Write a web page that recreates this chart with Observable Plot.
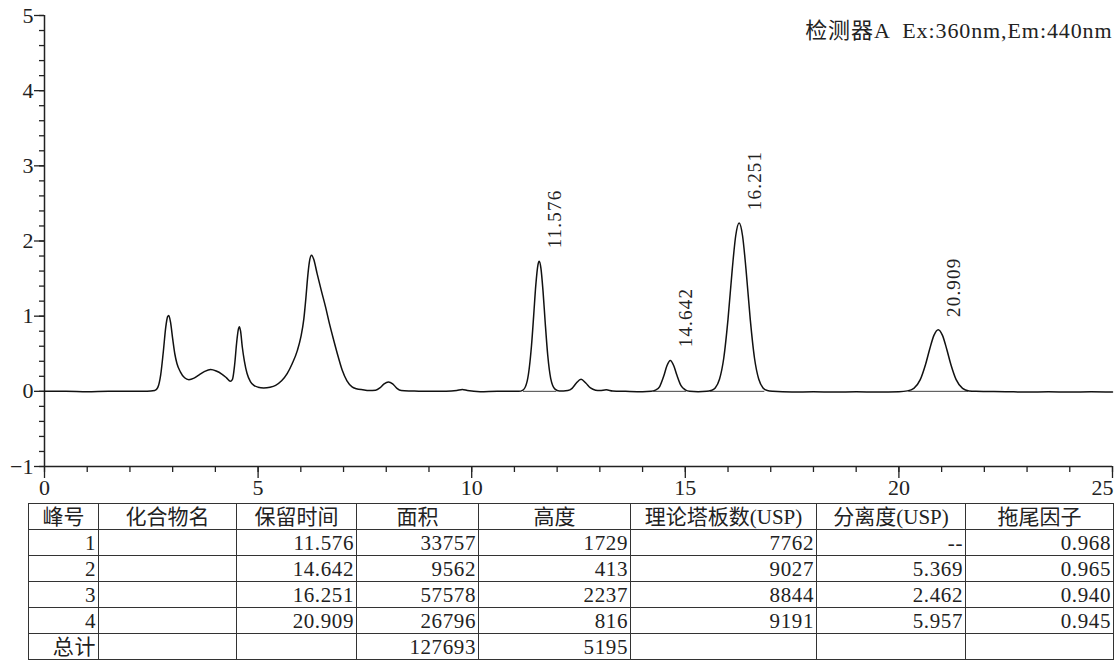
<!DOCTYPE html>
<html><head><meta charset="utf-8">
<script src="https://cdn.jsdelivr.net/npm/d3@7"></script>
<script src="https://cdn.jsdelivr.net/npm/@observablehq/plot@0.6"></script>
<style>
body{margin:0;background:#fff;}
#wrap{position:relative;width:1115px;height:664px;font-family:"Liberation Serif","Times New Roman","DejaVu Serif","Noto Sans CJK SC",serif;color:#222;overflow:hidden;}
#chart{position:absolute;left:0;top:0;}
table{position:absolute;left:28px;top:503px;border-collapse:collapse;table-layout:fixed;font-size:21px;}
td,th{border:1.4px solid #333;height:25px;padding:0 2px;line-height:24px;font-weight:normal;white-space:nowrap;overflow:hidden;}
th{text-align:center;}
td{text-align:right;letter-spacing:0.6px;}
svg text{font-family:"Liberation Serif","Times New Roman","DejaVu Serif","Noto Sans CJK SC",serif;}
</style></head>
<body><div id="wrap"><div id="chart"></div></div>
<script>
// ---- chromatogram trace (time min, signal) ----
const traceT = [0,0.5,1.0,1.5,2.0,2.4,2.58,2.65,2.72,2.78,2.84,2.88,2.91,2.95,3.0,3.05,3.1,3.18,3.28,3.38,3.5,3.62,3.75,3.89,4.02,4.15,4.26,4.35,4.40,4.45,4.50,4.54,4.56,4.59,4.63,4.68,4.74,4.82,4.9,5.0,5.13,5.28,5.41,5.55,5.68,5.8,5.92,6.0,6.07,6.12,6.16,6.2,6.25,6.3,6.38,6.48,6.58,6.67,6.77,6.87,6.97,7.08,7.2,7.3,7.45,7.6,7.75,7.85,7.95,8.05,8.15,8.25,8.35,8.6,9.0,9.4,9.65,9.78,9.9,10.2,10.6,11.0,11.1,
  11.2,11.3,11.4,11.45,11.5,11.55,11.58,11.62,11.67,11.72,11.78,11.85,11.95,12.05,12.15,
  12.25,12.35,12.45,12.56,12.67,12.78,12.9,13.0,13.15,13.3,13.6,14.0,14.2,
  14.3,14.4,14.5,14.57,14.65,14.73,14.8,14.9,15.0,15.1,15.3,15.5,
  15.6,15.7,15.8,15.9,16.0,16.1,16.18,16.26,16.34,16.42,16.52,16.62,16.72,16.82,16.92,17.05,17.5,18.0,18.5,19.0,19.5,20.0,
  20.2,20.35,20.5,20.62,20.72,20.82,20.92,21.02,21.12,21.22,21.34,21.49,21.64,21.8,22.5,23.0,23.5,24.0,24.5,25.0];
const traceV = [0,0.0,-0.005,0.0,0.0,0.0,0.01,0.05,0.22,0.52,0.86,0.99,1.01,0.92,0.7,0.5,0.37,0.26,0.18,0.155,0.175,0.22,0.265,0.29,0.27,0.23,0.18,0.135,0.16,0.35,0.66,0.83,0.86,0.8,0.59,0.4,0.24,0.13,0.08,0.055,0.045,0.055,0.08,0.14,0.235,0.37,0.545,0.72,0.96,1.25,1.52,1.72,1.81,1.76,1.57,1.34,1.12,0.9,0.68,0.47,0.28,0.14,0.06,0.035,0.02,0.01,0.015,0.045,0.1,0.125,0.1,0.04,0.01,0.005,0.0,0.0,0.01,0.025,0.01,-0.005,0.0,0.0,0.0,
  0.017,0.14,0.61,1.0,1.41,1.68,1.73,1.64,1.33,0.92,0.48,0.17,0.03,0.005,0.005,
  0.01,0.04,0.11,0.16,0.11,0.045,0.015,0.01,0.02,0.005,0.0,-0.005,0.0,
  0.015,0.064,0.21,0.34,0.41,0.34,0.22,0.075,0.02,0.0,-0.005,0.0,
  0.01,0.045,0.16,0.44,0.96,1.63,2.07,2.24,2.07,1.63,0.96,0.44,0.16,0.045,0.01,0.0,-0.01,-0.005,-0.01,-0.005,-0.01,-0.005,
  0.006,0.04,0.155,0.35,0.56,0.745,0.82,0.745,0.56,0.35,0.155,0.04,0.006,0.0,-0.005,-0.01,-0.005,-0.01,-0.005,-0.01];

// ---- integrated peaks ----
const peakNo = ["1","2","3","4"];
const retTime = ["11.576","14.642","16.251","20.909"];
const area = ["33757","9562","57578","26796"];
const heightVal = ["1729","413","2237","816"];
const plates = ["7762","9027","8844","9191"];
const resolution = ["--","5.369","2.462","5.957"];
const tailing = ["0.968","0.965","0.940","0.945"];
const totalArea = "127693";
const totalHeight = "5195";
const peakStart = [11.2,14.25,15.58,20.22];
const peakEnd = [11.98,15.02,16.85,21.62];

// ---- axes / text ----
const title = "检测器A  Ex:360nm,Em:440nm";
const headers = ["峰号","化合物名","保留时间","面积","高度","理论塔板数(USP)","分离度(USP)","拖尾因子"];
const totalLabel = "总计";
const xMajor = [0,5,10,15,20,25];
const xMinor = d3.range(0,26,1);
const yMajor = [-1,0,1,2,3,4,5];
const yMinor = d3.range(-1,5.001,0.2).map(v=>+v.toFixed(1));

const trace = traceT.map((t,i)=>({t, v: traceV[i]}));
const peaks = retTime.map((r,i)=>({rt:+r, label:r, h:+heightVal[i]/1000, s:peakStart[i], e:peakEnd[i]}));

const ink = "#222";
const font = "'Liberation Serif','Times New Roman','DejaVu Serif','Noto Sans CJK SC',serif";
const fmtInt = d3.format("d");

const chart = Plot.plot({
  width:1115, height:500,
  marginLeft:44, marginRight:3, marginTop:15, marginBottom:34,
  style:{fontFamily:font, fontSize:"21px", color:ink, background:"#fff", overflow:"visible"},
  x:{domain:[0,25]},
  y:{domain:[-1,5]},
  marks:[
    Plot.axisY({ticks:yMinor, tickSize:5, tickFormat:()=>"", label:null, strokeWidth:1.3, stroke:ink}),
    Plot.axisY({ticks:yMajor, tickSize:10, tickPadding:1, label:null, strokeWidth:1.3, stroke:ink, fontSize:22, tickFormat:fmtInt}),
    Plot.axisX({ticks:xMinor, tickSize:6, tickFormat:()=>"", label:null, strokeWidth:1.3, stroke:ink}),
    Plot.axisX({ticks:xMajor, tickSize:12, tickPadding:1, label:null, strokeWidth:1.3, stroke:ink, fontSize:22,
      tickFormat:d=> d===25 ? "" : fmtInt(d)}),
    Plot.text([25], {x:d=>d, frameAnchor:"bottom", dy:13, lineAnchor:"top", textAnchor:"end", dx:1, text:d=>fmtInt(d), fontSize:22, fill:ink}),
    Plot.ruleX([0], {stroke:ink, strokeWidth:1.5}),
    Plot.ruleY([-1], {stroke:ink, strokeWidth:1.5}),
    Plot.link(peaks, {x1:"s", x2:"e", y1:()=>0, y2:()=>0, stroke:"#444", strokeWidth:1}),
    Plot.line(trace, {x:"t", y:"v", curve:"monotone-x", stroke:"#111", strokeWidth:1.5}),
    Plot.text(peaks, {x:"rt", y:"h", text:"label", rotate:-90, textAnchor:"start", lineAnchor:"middle", dx:16, dy:-13, fontSize:19, fill:ink}),
    Plot.text([title], {frameAnchor:"top-right", textAnchor:"end", lineAnchor:"middle", dy:15, fontSize:22, fill:ink})
  ]
});
// widen spacing of the peak labels and the detector title, like the original monospaced font
d3.select(chart).selectAll("text").each(function(){
  const tr = this.getAttribute("transform") || "";
  const s = this.textContent;
  if (tr.includes("rotate(-90)")) this.style.letterSpacing = "1.2px";
  if (s === title) this.style.letterSpacing = "0.9px";
});
document.getElementById("chart").appendChild(chart);

// ---- peak table ----
const colW = [70,138,120,122,152,186,149,148];
const table = d3.select("#wrap").append("table");
table.append("colgroup").selectAll("col").data(colW).join("col").style("width", d=>d+"px");
table.append("tr").selectAll("th").data(headers).join("th").text(d=>d);
peakNo.forEach((p,i)=>{
  const row = [p,"",retTime[i],area[i],heightVal[i],plates[i],resolution[i],tailing[i]];
  table.append("tr").selectAll("td").data(row).join("td").text(d=>d);
});
const totalRow = [totalLabel,"","",totalArea,totalHeight,"","",""];
table.append("tr").selectAll("td").data(totalRow).join("td").text(d=>d);
</script>
</body></html>
